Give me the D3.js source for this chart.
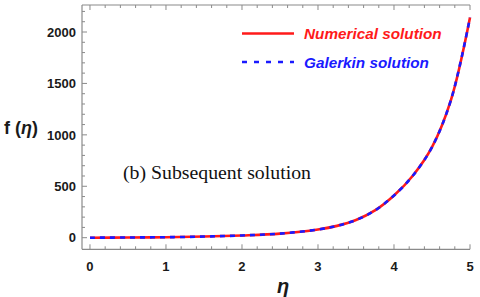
<!DOCTYPE html>
<html><head><meta charset="utf-8">
<script src="https://cdn.jsdelivr.net/npm/d3@7"></script>
<style>body{margin:0;background:#fff}svg{display:block}</style>
</head><body>
<svg id="c" width="480" height="297"></svg>
<script>
const eta = [0, 0.5, 1, 1.5, 2, 2.5, 3, 3.25, 3.5, 3.75, 4, 4.25, 4.5, 4.75, 5];
const numerical = [0, 2, 5, 11, 22, 40, 80, 115, 172, 265, 410, 605, 880, 1340, 2140];
const galerkin = [0, 2, 5, 11, 22, 40, 80, 115, 172, 265, 410, 605, 880, 1340, 2140];
const xTicks = [0, 1, 2, 3, 4, 5];
const yTicks = [0, 500, 1000, 1500, 2000];
const seriesNames = ["Numerical solution", "Galerkin solution"];

const svg = d3.select("#c");
const L = 82, R = 470, T = 5, B = 249.3;
const x = d3.scaleLinear().domain([-0.105, 5]).range([L, R]);
const y = d3.scaleLinear().domain([0, 2000]).range([237.7, 32]);
const axisCol = "#8a8a8a";

svg.append("defs").append("clipPath").attr("id","clip")
  .append("rect").attr("x",L).attr("y",T).attr("width",R-L+3).attr("height",B-T);

svg.append("line").attr("x1",L).attr("x2",R).attr("y1",B).attr("y2",B).attr("stroke",axisCol).attr("stroke-width",1.2);
svg.append("line").attr("x1",L).attr("x2",R).attr("y1",T).attr("y2",T).attr("stroke",axisCol).attr("stroke-width",1.2);
svg.append("line").attr("x1",L).attr("x2",L).attr("y1",T).attr("y2",B).attr("stroke",axisCol).attr("stroke-width",1.2);

const xMinor = d3.range(0, 5.001, 0.2);
xMinor.forEach(v => {
  const major = Math.abs(v - Math.round(v)) < 1e-6;
  const len = major ? 5 : 3;
  svg.append("line").attr("x1",x(v)).attr("x2",x(v)).attr("y1",B).attr("y2",B-len).attr("stroke",axisCol).attr("stroke-width",1);
  svg.append("line").attr("x1",x(v)).attr("x2",x(v)).attr("y1",T).attr("y2",T+len).attr("stroke",axisCol).attr("stroke-width",1);
});
const yMinor = d3.range(0, 2201, 100);
yMinor.forEach(v => {
  const major = v % 500 === 0;
  const len = major ? 5 : 3;
  svg.append("line").attr("x1",L).attr("x2",L+len).attr("y1",y(v)).attr("y2",y(v)).attr("stroke",axisCol).attr("stroke-width",1);
});

const tickFont = "Liberation Sans, Arial, sans-serif";
svg.selectAll(".xt").data(xTicks).enter().append("text")
  .attr("x", d => x(d)).attr("y", 270.5).attr("text-anchor","middle")
  .attr("font-family", tickFont).attr("font-weight","bold").attr("font-size",13).attr("fill","#1a1a1a")
  .text(d => d);
svg.selectAll(".yt").data(yTicks).enter().append("text")
  .attr("x", 76).attr("y", d => y(d)+4.7).attr("text-anchor","end")
  .attr("font-family", tickFont).attr("font-weight","bold").attr("font-size",13).attr("fill","#1a1a1a")
  .text(d => d);

svg.append("text").attr("x",283).attr("y",293).attr("text-anchor","middle")
  .attr("font-family", tickFont).attr("font-weight","bold").attr("font-style","italic").attr("font-size",20).attr("fill","#1a1a1a").text("η");
const yl = svg.append("text").attr("x",4).attr("y",133.5)
  .attr("font-family", tickFont).attr("font-weight","bold").attr("font-size",18).attr("fill","#1a1a1a");
yl.append("tspan").text("f (");
yl.append("tspan").attr("font-style","italic").text("η");
yl.append("tspan").text(")");

svg.append("text").attr("x",123).attr("y",178.5)
  .attr("font-family","Liberation Serif, Times New Roman, serif").attr("font-size",19.8).attr("fill","#111")
  .text("(b) Subsequent solution");

const line = d3.line().x((d,i)=>x(eta[i])).y(d=>y(d)).curve(d3.curveCatmullRom.alpha(0.5));
const g = svg.append("g").attr("clip-path","url(#clip)");
g.append("path").attr("d", line(numerical)).attr("fill","none").attr("stroke","#ff1a1a").attr("stroke-width",2.6);
g.append("path").attr("d", line(galerkin)).attr("fill","none").attr("stroke","#1a1aff").attr("stroke-width",2.6).attr("stroke-dasharray","5,5");

const lg = svg.append("g");
lg.append("line").attr("x1",242).attr("x2",294).attr("y1",33.5).attr("y2",33.5).attr("stroke","#ff1a1a").attr("stroke-width",2.6);
lg.append("line").attr("x1",242).attr("x2",294).attr("y1",62).attr("y2",62).attr("stroke","#1a1aff").attr("stroke-width",2.6).attr("stroke-dasharray","5,7");
lg.append("text").attr("x",304).attr("y",39).attr("font-family",tickFont).attr("font-weight","bold").attr("font-style","italic")
  .attr("font-size",15.3).attr("fill","#ff1a1a").text(seriesNames[0]);
lg.append("text").attr("x",304).attr("y",67.5).attr("font-family",tickFont).attr("font-weight","bold").attr("font-style","italic")
  .attr("font-size",15.3).attr("fill","#1a1aff").text(seriesNames[1]);
</script>
</body></html>
